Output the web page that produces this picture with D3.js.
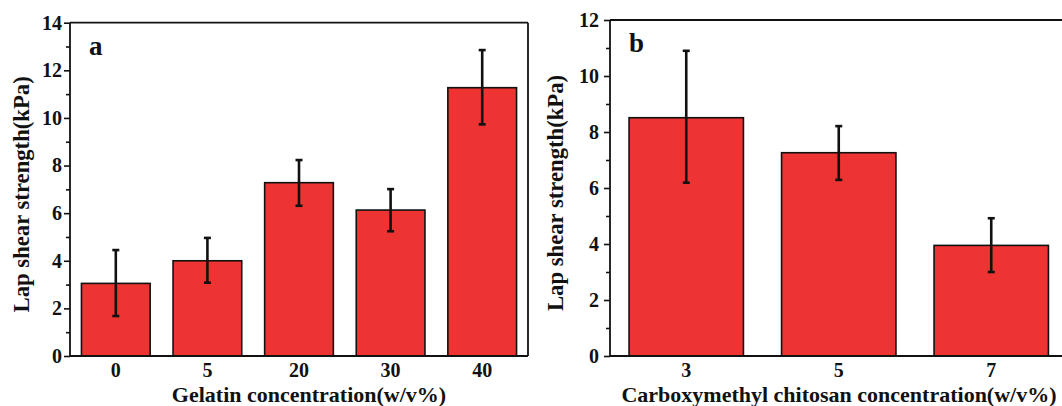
<!DOCTYPE html>
<html>
<head>
<meta charset="utf-8">
<script src="https://cdn.jsdelivr.net/npm/d3@7"></script>
<style>
  html, body { margin: 0; padding: 0; background: #fff; }
  svg { display: block; }
  text { font-family: "Liberation Serif", "Times New Roman", serif; font-weight: bold; fill: #111; }
</style>
</head>
<body>
<svg id="chart" width="1062" height="406"></svg>
<script>
// Panel a data
const catsA = ["0", "5", "20", "30", "40"];
const valsA = [3.05, 4.0, 7.28, 6.13, 11.27];
const errLowA = [1.68, 3.08, 6.31, 5.24, 9.73];
const errHighA = [4.45, 4.96, 8.23, 7.01, 12.85];
const ticksA = [0, 2, 4, 6, 8, 10, 12, 14];

// Panel b data
const catsB = ["3", "5", "7"];
const valsB = [8.51, 7.26, 3.95];
const errLowB = [6.19, 6.29, 3.0];
const errHighB = [10.9, 8.21, 4.92];
const ticksB = [0, 2, 4, 6, 8, 10, 12];

const svg = d3.select("#chart");
const FONT = "'Liberation Serif', 'Times New Roman', serif";

function styleText(sel, size) {
  sel.style("font-family", FONT).style("font-weight", "bold").style("font-size", size + "px").style("fill", "#111");
}

function panel(cfg) {
  const g = svg.append("g");
  const x = d3.scaleBand().domain(cfg.cats).range([cfg.left, cfg.right]).paddingInner(0.25).paddingOuter(0.125);
  const y = d3.scaleLinear().domain([0, cfg.ymax]).range([cfg.bottom, cfg.top]);

  // bars
  g.selectAll("rect.bar").data(cfg.vals).join("rect")
    .attr("class", "bar")
    .attr("x", (d, i) => x(cfg.cats[i]))
    .attr("width", x.bandwidth())
    .attr("y", d => y(d))
    .attr("height", d => y(0) - y(d))
    .attr("fill", "#EE3333")
    .attr("stroke", "#111")
    .attr("stroke-width", 1.6);

  // error bars
  const cx = i => x(cfg.cats[i]) + x.bandwidth() / 2;
  cfg.vals.forEach((v, i) => {
    g.append("line").attr("x1", cx(i)).attr("x2", cx(i))
      .attr("y1", y(cfg.lo[i])).attr("y2", y(cfg.hi[i]))
      .attr("stroke", "#111").attr("stroke-width", 2.6);
    [cfg.lo[i], cfg.hi[i]].forEach(e => {
      g.append("line").attr("x1", cx(i) - 3.5).attr("x2", cx(i) + 3.5)
        .attr("y1", y(e)).attr("y2", y(e))
        .attr("stroke", "#111").attr("stroke-width", 2.6);
    });
  });

  // frame
  g.append("line").attr("x1", cfg.left).attr("x2", cfg.right).attr("y1", cfg.top).attr("y2", cfg.top)
    .attr("stroke", "#111").attr("stroke-width", 1.8);
  g.append("line").attr("x1", cfg.right).attr("x2", cfg.right).attr("y1", cfg.top).attr("y2", cfg.bottom)
    .attr("stroke", "#111").attr("stroke-width", 1.8);

  // minor ticks
  const minor = d3.range(1, cfg.ymax, 2);
  const minorAxis = d3.axisLeft(y).tickValues(minor).tickSize(4).tickFormat("");
  const ma = g.append("g").attr("transform", `translate(${cfg.left},0)`).call(minorAxis);
  ma.select(".domain").remove();
  ma.selectAll("line").attr("stroke", "#111").attr("stroke-width", 1.6);

  // y axis
  const yAxis = d3.axisLeft(y).tickValues(cfg.ticks).tickSize(6).tickPadding(cfg.yPad).tickFormat(d3.format("d"));
  const ya = g.append("g").attr("transform", `translate(${cfg.left},0)`).call(yAxis);
  ya.select(".domain").attr("stroke", "#111").attr("stroke-width", 1.8).attr("d", `M0,${cfg.bottom}V${cfg.top}`);
  ya.selectAll(".tick line").attr("stroke", "#111").attr("stroke-width", 1.6);
  styleText(ya.selectAll(".tick text"), 20);

  // x axis
  const xAxis = d3.axisBottom(x).tickSize(0).tickPadding(7);
  const xa = g.append("g").attr("transform", `translate(0,${cfg.bottom})`).call(xAxis);
  xa.select(".domain").attr("stroke", "#111").attr("stroke-width", 1.8).attr("d", `M${cfg.left},0H${cfg.right}`);
  styleText(xa.selectAll(".tick text"), 20);

  // titles
  styleText(g.append("text").attr("x", cfg.xTitleX).attr("y", 401.5).attr("text-anchor", "middle")
    .text(cfg.xTitle), 22);
  styleText(g.append("text").attr("transform", `translate(${cfg.yTitleX},${(cfg.top + cfg.bottom) / 2 + 5}) rotate(-90)`)
    .attr("text-anchor", "middle").text("Lap shear strength(kPa)"), 22.7);
  styleText(g.append("text").attr("x", cfg.left + 19).attr("y", cfg.top + 32).text(cfg.label), 27);
}

panel({ cats: catsA, vals: valsA, lo: errLowA, hi: errHighA, ticks: ticksA, ymax: 14,
  left: 70, right: 528, top: 22.7, bottom: 356, yPad: 2,
  xTitle: "Gelatin concentration(w/v%)", xTitleX: 309, yTitleX: 29, label: "a" });

panel({ cats: catsB, vals: valsB, lo: errLowB, hi: errHighB, ticks: ticksB, ymax: 12,
  left: 610, right: 1067.5, top: 20, bottom: 356, yPad: 5,
  xTitle: "Carboxymethyl chitosan concentration(w/v%)", xTitleX: 839, yTitleX: 563, label: "b" });
</script>
</body>
</html>
